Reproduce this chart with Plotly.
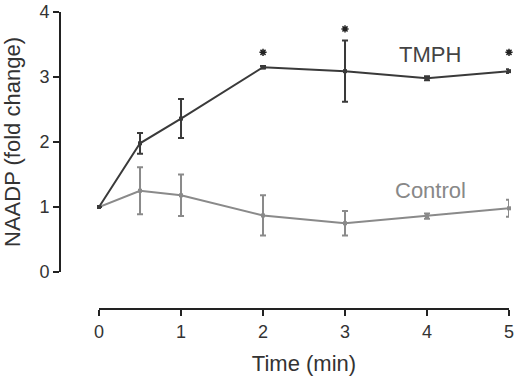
import plotly.graph_objects as go

time = [0, 0.5, 1, 2, 3, 4, 5]
tmph = [1.0, 1.98, 2.36, 3.15, 3.09, 2.98, 3.09]
tmph_err = [0.0, 0.16, 0.30, 0.02, 0.47, 0.03, 0.03]
control = [1.0, 1.25, 1.18, 0.87, 0.75, 0.86, 0.98]
control_err = [0.0, 0.36, 0.32, 0.31, 0.19, 0.04, 0.13]
star_x = [2, 3, 5]
star_y = [3.38, 3.74, 3.38]
x_ticks = [0, 1, 2, 3, 4, 5]
y_ticks = [0, 1, 2, 3, 4]

FONT = "Liberation Sans, Arial, sans-serif"
DARK = "#3a3a3a"
GRAY = "#8a8a8a"

fig = go.Figure()
fig.add_trace(go.Scatter(
    x=time, y=control, mode="lines+markers",
    line=dict(color=GRAY, width=2),
    marker=dict(symbol="square", size=4, color=GRAY),
    error_y=dict(type="data", array=control_err, visible=True,
                 color=GRAY, thickness=2, width=3),
    cliponaxis=False, showlegend=False))
fig.add_trace(go.Scatter(
    x=time, y=tmph, mode="lines+markers",
    line=dict(color=DARK, width=2),
    marker=dict(symbol="square", size=4, color=DARK),
    error_y=dict(type="data", array=tmph_err, visible=True,
                 color=DARK, thickness=2, width=3),
    cliponaxis=False, showlegend=False))
fig.add_trace(go.Scatter(
    x=star_x, y=star_y, mode="markers",
    marker=dict(symbol="asterisk-open", size=6, color="#222",
                line=dict(color="#222", width=1.5)),
    cliponaxis=False, showlegend=False))

fig.add_annotation(x=4.04, y=3.34, text="TMPH", showarrow=False,
                   font=dict(family=FONT, size=22, color="#444"))
fig.add_annotation(x=4.04, y=1.26, text="Control", showarrow=False,
                   font=dict(family=FONT, size=22, color="#888"))

fig.update_layout(
    width=520, height=377,
    margin=dict(l=60, r=11, t=12, b=68),
    plot_bgcolor="white", paper_bgcolor="white",
    font=dict(family=FONT, size=18, color="#333"),
    xaxis=dict(
        domain=[0.0869, 1], range=[0, 5], tickvals=x_ticks,
        anchor="free", position=0, automargin=False,
        showline=True, linecolor="#222", linewidth=2,
        ticks="outside", tickcolor="#222", tickwidth=2, ticklen=6,
        tickfont=dict(size=18),
        showgrid=False, zeroline=False,
        title=dict(text="Time (min)", font=dict(size=22), standoff=14),
    ),
    yaxis=dict(
        domain=[0.1246, 1], range=[0, 4], tickvals=y_ticks,
        anchor="free", position=0, automargin=False,
        showline=True, linecolor="#222", linewidth=2,
        ticks="outside", tickcolor="#222", tickwidth=2, ticklen=6,
        tickfont=dict(size=18),
        showgrid=False, zeroline=False,
        title=dict(text="NAADP (fold change)", font=dict(size=22), standoff=17),
    ),
)

fig.write_html("out.html", config={"displayModeBar": False},
               post_script="document.body.style.margin='0';")
